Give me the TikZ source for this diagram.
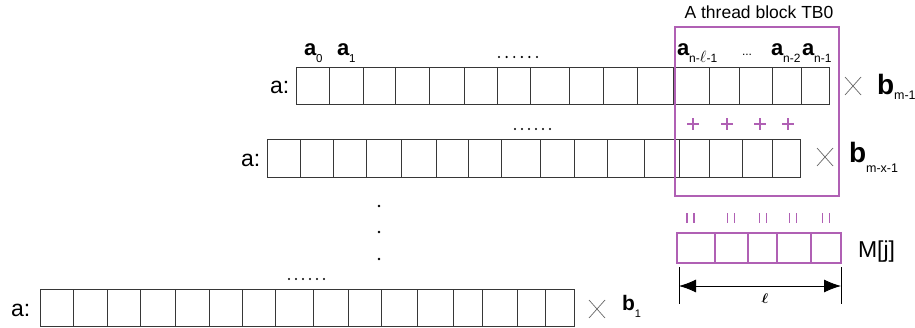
\documentclass[tikz,border=0pt]{standalone}
\usepackage{fontspec}
\usepackage{bm}
\usepackage{graphicx}
\setmainfont{Liberation Sans}
\usetikzlibrary{arrows.meta}
\definecolor{tbpurple}{RGB}{176,96,180}
\definecolor{cellline}{RGB}{55,55,55}
\newcommand\Sym[5]{{\fontsize{#1pt}{#1pt}\selectfont\bfseries #2}{\fontsize{#3pt}{#3pt}\selectfont\raisebox{-#5pt}{#4}}}
\newcommand\bigell{\scalebox{1.35}{$\ell$}}
\begin{document}
\begin{tikzpicture}[x=1pt,y=-1pt,
  txt/.style={inner sep=0pt,outer sep=0pt,anchor=base west},
  rowbox/.style={draw=cellline,line width=0.9pt,inner sep=0pt,anchor=north west},
  cellsep/.style={draw=cellline,line width=0.9pt},
  timesmark/.style={draw=black!60,line width=0.7pt},
  purp/.style={draw=tbpurple,line width=1.3pt},
  dimline/.style={draw=black,line width=0.8pt}]
\useasboundingbox (0,0) rectangle (915,327);

% ---- Row 1
\node[rowbox,minimum width=533pt,minimum height=37pt] (row1) at (296,67) {};
\foreach \x in {329,363,395,429,464,497,530,569,603,637,673,709,739,772,801}
  \draw[cellsep] (\x,67) -- (\x,104);
\node[txt] (lab1) at (270,93) {\fontsize{23pt}{23pt}\selectfont a:};
\node[txt] (a0) at (304,55) {\Sym{22}{a}{11.5}{0}{7}};
\node[txt] (a1) at (337,55) {\Sym{22}{a}{11.5}{1}{7}};
\node[txt] (anl) at (677,55) {\Sym{22}{a}{12}{n-\bigell-1}{7}};
\node[txt] (adots) at (742,55) {\fontsize{12pt}{12pt}\selectfont ...};
\node[txt] (an2) at (771,55) {\Sym{22}{a}{12}{n-2}{7}};
\node[txt] (an1) at (802,55) {\Sym{22}{a}{12}{n-1}{7}};
\foreach \k in {0,...,5} \fill (499+7.6*\k,57) circle (1.2);
\draw[timesmark] (845,77) -- (861,95) (845,95) -- (861,77);
\node[txt] (bm1) at (877,94) {\Sym{28}{b}{12.5}{m-1}{5}};

% ---- Row 2
\node[rowbox,minimum width=533pt,minimum height=38pt] (row2) at (267,139) {};
\foreach \x in {300,333,366,401,436,468,501,540,574,607,644,679,709,742,772}
  \draw[cellsep] (\x,139) -- (\x,177);
\node[txt] (lab2) at (241,166) {\fontsize{23pt}{23pt}\selectfont a:};
\foreach \k in {0,...,5} \fill (515+7*\k,129) circle (1.2);
\draw[timesmark] (817,148) -- (833,166) (817,166) -- (833,148);
\node[txt] (bmx) at (849,162) {\Sym{28}{b}{12.5}{m-x-1}{10}};

% plus signs
\foreach \x in {693,727,760,788}
  \draw[draw=tbpurple,line width=1.1pt] (\x-6,124) -- (\x+6,124) (\x,118) -- (\x,130);

% ---- Row 3
\node[rowbox,minimum width=534pt,minimum height=37pt] (row3) at (40,289) {};
\foreach \x in {73,107,140,175,209,242,275,313,348,381,417,453,482,517,545}
  \draw[cellsep] (\x,289) -- (\x,326);
\node[txt] (lab3) at (11,316) {\fontsize{23pt}{23pt}\selectfont a:};
\foreach \k in {0,...,5} \fill (289+7*\k,279) circle (1.2);
\draw[timesmark] (589,300) -- (605,318) (589,318) -- (605,300);
\node[txt] (b1) at (622,310) {\Sym{21}{b}{11}{1}{7}};

% vertical dots
\foreach \y in {206,232,259} \fill (379,\y) circle (1.3);

% ---- thread block
\coordinate (tbNW) at (675,27);
\coordinate (tbSE) at (839,196);
\draw[purp] (tbNW) rectangle (tbSE);
\node[inner sep=0pt,anchor=base] (tblab) at (759,18) {\fontsize{17.5pt}{17.5pt}\selectfont A thread block TB0};

% equals signs (vertical)
\foreach \x in {690.5,731,763,793,826}
  \draw[draw=tbpurple,line width=1.1pt] (\x-3.5,213) -- (\x-3.5,223) (\x+3.5,213) -- (\x+3.5,223);

% M[j]
\coordinate (mjNW) at (677,233);
\coordinate (mjSE) at (841,263);
\draw[purp] (mjNW) rectangle (mjSE);
\foreach \x in {715,748,777,811}
  \draw[purp] (\x,233) -- (\x,263);
\node[txt] (mjlab) at (858,257) {\fontsize{23pt}{23pt}\selectfont M[j]};

% dimension
\coordinate (eLt) at (679,267);
\coordinate (eLb) at (679,304);
\coordinate (eRt) at (841,267);
\coordinate (eRb) at (841,304);
\coordinate (dL) at (679,286);
\coordinate (dR) at (841,286);
\draw[dimline] (eLt) -- (eLb);
\draw[dimline] (eRt) -- (eRb);
\draw[dimline,{Latex[length=17pt,width=13pt]}-{Latex[length=17pt,width=13pt]}] (dL) -- (dR);
\node[inner sep=0pt] (lenlab) at (765,299) {\scalebox{1.4}{$\bm{\ell}$}};
\end{tikzpicture}
\end{document}
